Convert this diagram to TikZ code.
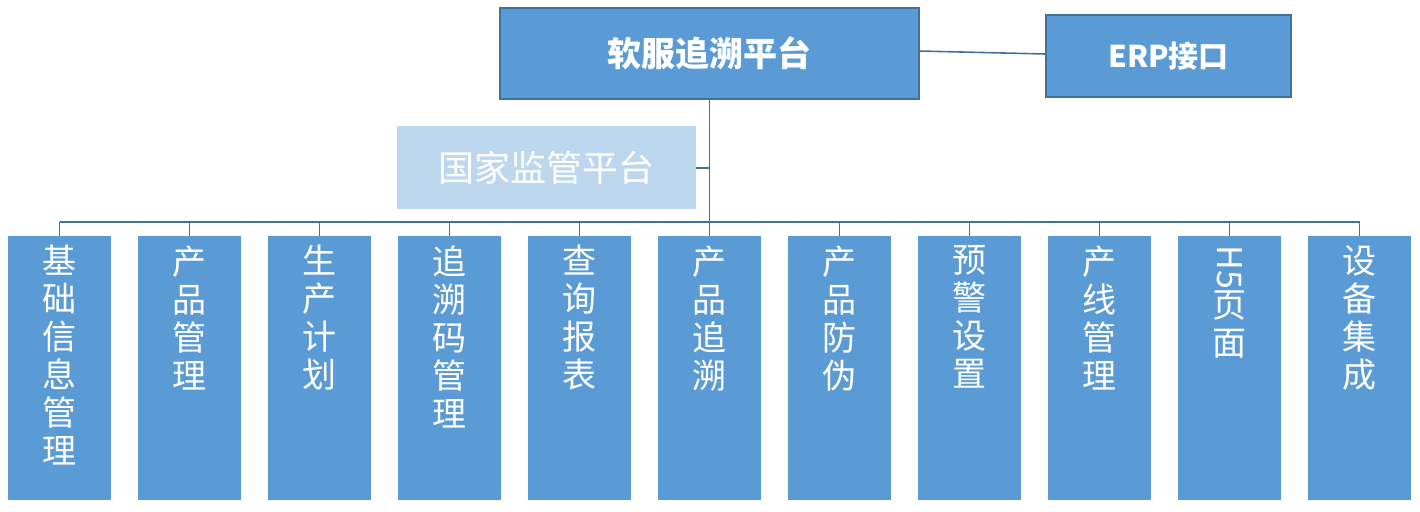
\documentclass[tikz,border=0pt]{standalone}
\usepackage{fontspec}
\setmainfont{Noto Sans CJK SC}
\begin{document}
\begin{tikzpicture}[x=0.5pt,y=-0.5pt]
\definecolor{bf}{HTML}{5B9BD5}
\definecolor{bd}{HTML}{41719C}
\definecolor{lf}{HTML}{BDD7EE}
\tikzset{
 top/.style={fill=bf,draw=bd,line width=0.8pt,text=white,font=\bfseries},
 col/.style={fill=bf,draw=none},
 ctext/.style={anchor=north,text=white,align=center,inner sep=0pt,font=\fontsize{17}{19}\selectfont},
 conn/.style={draw=bd,line width=0.8pt}
}
\useasboundingbox (0,0) rectangle (1420,511);
\draw[top] (500,8) rectangle (919,99);
\node[text=white,font=\fontsize{17}{20}\selectfont\bfseries] (main) at (709.5,53.5) {软服追溯平台};
\draw[top] (1046,15) rectangle (1291,97);
\node[text=white,font=\fontsize{15}{18}\selectfont\bfseries] (erp) at (1168.5,56) {ERP接口};
\fill[lf] (397,126) rectangle (696,209);
\node[text=white,font=\fontsize{18}{20}\selectfont] (nat) at (546.5,167.5) {国家监管平台};
\coordinate (mb) at (709.5,99);
\coordinate (mr) at (919,51);
\coordinate (el) at (1046,54);
\coordinate (nr) at (696,168);
\coordinate (tn) at (709.5,168);
\coordinate (tj) at (709.5,222);
\draw[conn] (mr) -- (el);
\draw[conn] (mb) -- (tj);
\draw[conn] (nr) -- (tn);
\draw[conn] (59.5,222) -- (1359.5,222);
\foreach \i/\t in {0/基\\础\\信\\息\\管\\理,1/产\\品\\管\\理,2/生\\产\\计\\划,3/追\\溯\\码\\管\\理,4/查\\询\\报\\表,5/产\\品\\追\\溯,6/产\\品\\防\\伪,7/预\\警\\设\\置,8/产\\线\\管\\理,10/设\\备\\集\\成}{
  \pgfmathsetmacro{\xl}{8+130*\i}
  \fill[bf] (\xl,236) rectangle ++(103,264);
  \node[ctext] (b\i) at (\xl+51.5,245) {\t};
  \draw[conn] (\xl+51.5,222) -- (\xl+51.5,236);
}
\fill[bf] (1178,236) rectangle ++(103,264);
\draw[conn] (1229.5,222) -- (1229.5,236);
\node[ctext] (b9) at (1229.5,245) {\rotatebox{-90}{H5}\\页\\面};
\end{tikzpicture}
\end{document}
